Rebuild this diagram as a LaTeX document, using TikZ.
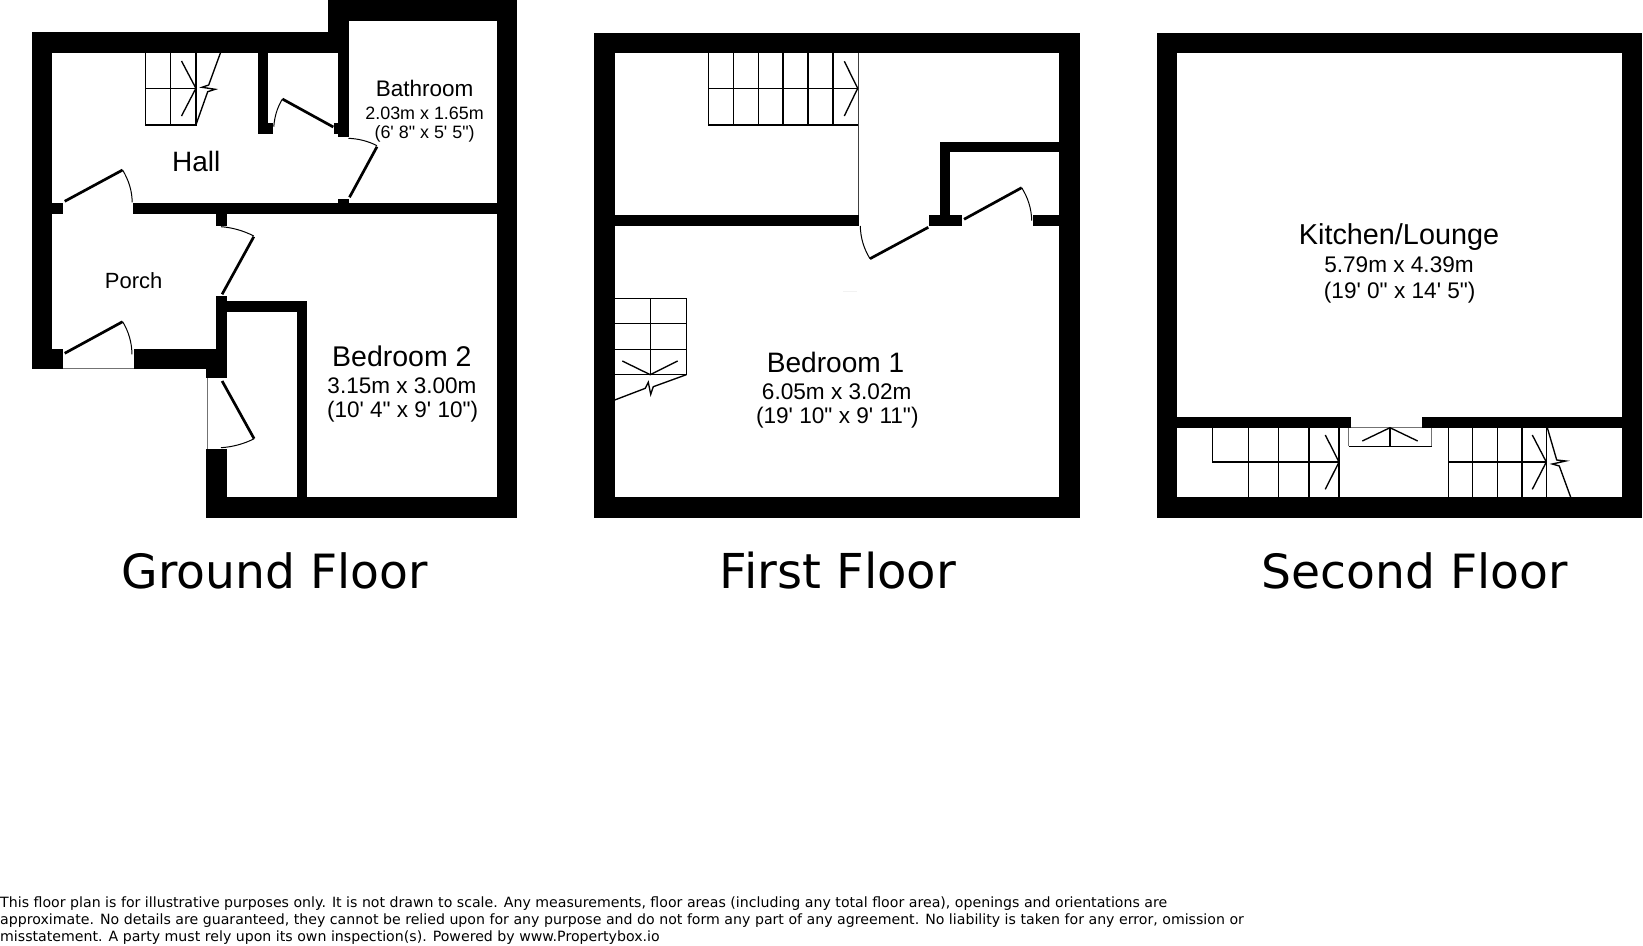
\documentclass[tikz,border=0pt]{standalone}
\usepackage{fontspec}
\newfontfamily\ar{Liberation Sans}
\newfontfamily\dv{DejaVu Sans}
\tikzset{
  wall/.style={fill=black,draw=none},
  doorleaf/.style={line width=2.7pt,black},
  doorarc/.style={line width=1pt,black},
  stair/.style={line width=1.35pt,black,line join=miter},
  thinedge/.style={line width=0.8pt,black!55},
  room/.style={inner sep=0pt,align=center,anchor=center},
  title/.style={inner sep=0pt,anchor=center,font=\dv\fontsize{47.2}{50}\selectfont},
  foot/.style={inner sep=0pt,anchor=west,font=\dv\fontsize{14.15}{16}\selectfont}
}
\newcommand{\fsz}[1]{\ar\fontsize{#1}{#1}\selectfont}
\newcommand{\wallrect}[2]{\fill[wall] (#1) rectangle (#2);}
\begin{document}
\begin{tikzpicture}[x=1pt,y=-1pt]
\useasboundingbox (0,0) rectangle (1643,945);
\fill[white] (0,0) rectangle (1643,945);
% ---------- Ground floor
\wallrect{31.7,32.3}{52,369}
\wallrect{31.7,32.3}{348.8,53}
\wallrect{327.8,0}{348.8,53}
\wallrect{327.8,0}{517.2,20.7}
\wallrect{496.6,0}{517.2,518}
\wallrect{206.3,497.3}{517.2,518}
\wallrect{337.8,53}{348.8,137}
\wallrect{334.4,122.7}{337.8,133.7}
\wallrect{257.6,53}{267.9,133.7}
\wallrect{267.9,122.7}{272.7,133.7}
\wallrect{52,203}{63,214}
\wallrect{133.3,203}{496.6,214}
\wallrect{337.8,198.7}{348.8,203}
\wallrect{215.9,214}{226.9,225.7}
\wallrect{215.9,296}{226.9,378.3}
\wallrect{226.9,301.3}{306.8,312}
\wallrect{296.5,312}{306.8,497.3}
\wallrect{31.7,348.7}{63,369}
\wallrect{133.6,348.7}{215.9,369}
\wallrect{206.3,369}{226.9,378.3}
\wallrect{206.3,449.3}{226.9,518}
\draw[thinedge] (63,368) -- (133.6,368);
\draw[thinedge] (207,378.3) -- (207,449.3);
% doors
\draw[doorleaf] (64.7,201.3) -- (122.6,170);
\draw[doorarc] (122.6,170) .. controls (128.5,180) and (132,190) .. (132.2,202.3);
\draw[doorleaf] (282.4,99) -- (333.3,127);
\draw[doorarc] (282.4,99) .. controls (277,108) and (274.5,117) .. (273.8,126.7);
\draw[doorleaf] (377,146.7) -- (349.5,197.3);
\draw[doorarc] (348.5,138.3) .. controls (358,138.7) and (368,141) .. (377,145.7);
\draw[doorleaf] (253.8,236.7) -- (222.1,294.3);
\draw[doorarc] (221,226.7) .. controls (232,227.5) and (243,230.5) .. (253.8,236);
\draw[doorleaf] (64.7,353.3) -- (122.6,321.7);
\draw[doorarc] (122.6,321.7) .. controls (128.5,331) and (132,343) .. (131.9,354.3);
\draw[doorleaf] (222.1,381) -- (254.1,438.7);
\draw[doorarc] (254.1,438.7) .. controls (244,444) and (232,447) .. (221,447.7);
% stairs
\draw[stair] (145.7,53) -- (145.7,125) -- (195.9,125) -- (195.9,53);
\draw[stair] (170.8,53) -- (170.8,125);
\draw[stair] (145.7,88.3) -- (195.9,88.3);
\draw[stair] (181.5,61) -- (195.9,88.3) -- (181.5,116);
\draw[stair] (220.4,53) -- (208.7,85) -- (202,87.3) -- (215.2,89.3) -- (207.7,91.7) -- (195.9,125);
\node[room,font=\fsz{28}] (hall) at (196.3,161.7) {Hall};
\node[room,font=\fsz{22.5}] (bath) at (424.6,88.8) {Bathroom};
\node[room,font=\fsz{17.9}] (bathm) at (424.6,112.9) {2.03m x 1.65m};
\node[room,font=\fsz{17.9}] (bathf) at (424.6,134.3) {(6' 8" x 5' 5")};
\node[room,font=\fsz{22}] (porch) at (133.6,280.9) {Porch};
\node[room,font=\fsz{28.5}] (bed2) at (401.9,356) {Bedroom 2};
\node[room,font=\fsz{22.5}] (bed2m) at (401.9,385.4) {3.15m x 3.00m};
\node[room,font=\fsz{22.5}] (bed2f) at (402.6,411.7) {(10' 4" x 9' 10")};
\node[title] (tg) at (275,571) {Ground Floor};
% ---------- First floor
\wallrect{594,32.7}{1080,53}
\wallrect{594,32.7}{614.7,518.3}
\wallrect{1059.3,32.7}{1080,518.3}
\wallrect{594,497.3}{1080,518.3}
\wallrect{614.7,214.7}{859,225.7}
\wallrect{929.3,214.7}{962,225.7}
\wallrect{1032.7,214.7}{1059.3,225.7}
\wallrect{939.7,141.7}{950.3,214.7}
\wallrect{939.7,141.7}{1059.3,152.3}
\draw[line width=0.9pt,black!75] (858,53) -- (858,214.7);
\draw[stair] (708.3,53) -- (708.3,125) -- (857.7,125);
\draw[stair] (708.3,88.3) -- (857.7,88.3);
\foreach \sx in {733.3,758.3,783,808,833} \draw[stair] (\sx,53) -- (\sx,125);
\draw[stair] (844.3,61.3) -- (857.7,88.3) -- (844.3,116);
\draw[doorleaf] (928.3,227.3) -- (870,258.7);
\draw[doorarc] (870,258.7) .. controls (864,249) and (860.5,238) .. (860.3,226);
\draw[doorleaf] (964,219.3) -- (1021.7,187.7);
\draw[doorarc] (1021.7,187.7) .. controls (1027.5,197) and (1031.5,208) .. (1031.7,220.7);
\draw[stair] (614.7,298.3) -- (686.3,298.3) -- (686.3,374.7) -- (614.7,374.7);
\draw[stair] (614.7,323.7) -- (686.3,323.7);
\draw[stair] (614.7,349.3) -- (686.3,349.3);
\draw[stair] (650.3,298.3) -- (650.3,374.7);
\draw[stair] (622.3,361) -- (650.3,374.7) -- (677.7,361);
\draw[stair] (686.3,374.7) -- (653.3,386.7) -- (650.7,394.3) -- (648.3,382.3) -- (645.3,388.3) -- (614.7,400);
\draw[line width=0.6pt,black!5] (843,291.3) -- (857,291.3);
\node[room,font=\fsz{28.1}] (bed1) at (835.5,362.7) {Bedroom 1};
\node[room,font=\fsz{22.6}] (bed1m) at (836.7,391.4) {6.05m x 3.02m};
\node[room,font=\fsz{22.6}] (bed1f) at (837.3,417.7) {(19' 10" x 9' 11")};
\node[title,font=\dv\fontsize{48.1}{50}\selectfont] (tf) at (838,571) {First Floor};
% ---------- Second floor
\wallrect{1156.7,32.7}{1642,53}
\wallrect{1156.7,32.7}{1177,518}
\wallrect{1621.7,32.7}{1642,518}
\wallrect{1156.7,497.3}{1642,518}
\wallrect{1177,417.3}{1350.7,427.7}
\wallrect{1421.7,417.3}{1621.7,427.7}
\draw[thinedge] (1348.7,427.7) -- (1348.7,446.3);
\draw[thinedge] (1431.7,427.7) -- (1431.7,446.3);
\draw[thinedge] (1350.7,427.7) -- (1421.7,427.7);
\draw[stair] (1348.7,446.3) -- (1431.7,446.3);
\draw[stair] (1390,427.7) -- (1390,446.3);
\draw[stair] (1362.3,441) -- (1390,427.7) -- (1417.7,441);
\draw[stair] (1212.7,427.7) -- (1212.7,462) -- (1339,462);
\foreach \sx in {1248.7,1278.7,1309,1339} \draw[stair] (\sx,427.7) -- (\sx,497.3);
\draw[stair] (1325.3,435) -- (1339,462) -- (1325.3,489.3);
\foreach \sx in {1448.3,1472.7,1497.3,1522,1546.3} \draw[stair] (\sx,427.7) -- (\sx,497.3);
\draw[stair] (1448.3,462) -- (1546.3,462);
\draw[stair] (1532.3,435) -- (1546.3,462) -- (1532.3,489.3);
\draw[stair] (1547.3,427.7) -- (1556.7,460) -- (1565.7,461) -- (1552.3,464) -- (1559.3,466) -- (1570.7,497.3);
\node[room,font=\fsz{28.8}] (kit) at (1399,237.5) {Kitchen/Lounge};
\node[room,font=\fsz{22.6}] (kitm) at (1399,265) {5.79m x 4.39m};
\node[room,font=\fsz{22.6}] (kitf) at (1399.7,293) {(19' 0" x 14' 5")};
\node[title] (ts) at (1415,571) {Second Floor};
% ---------- Footer
\node[foot] (f1) at (0,903.4) {This floor plan is for illustrative purposes only. It is not drawn to scale. Any measurements, floor areas (including any total floor area), openings and orientations are};
\node[foot] (f2) at (0,920.4) {approximate. No details are guaranteed, they cannot be relied upon for any purpose and do not form any part of any agreement. No liability is taken for any error, omission or};
\node[foot] (f3) at (0,937.2) {misstatement. A party must rely upon its own inspection(s). Powered by www.Propertybox.io};
\end{tikzpicture}
\end{document}
